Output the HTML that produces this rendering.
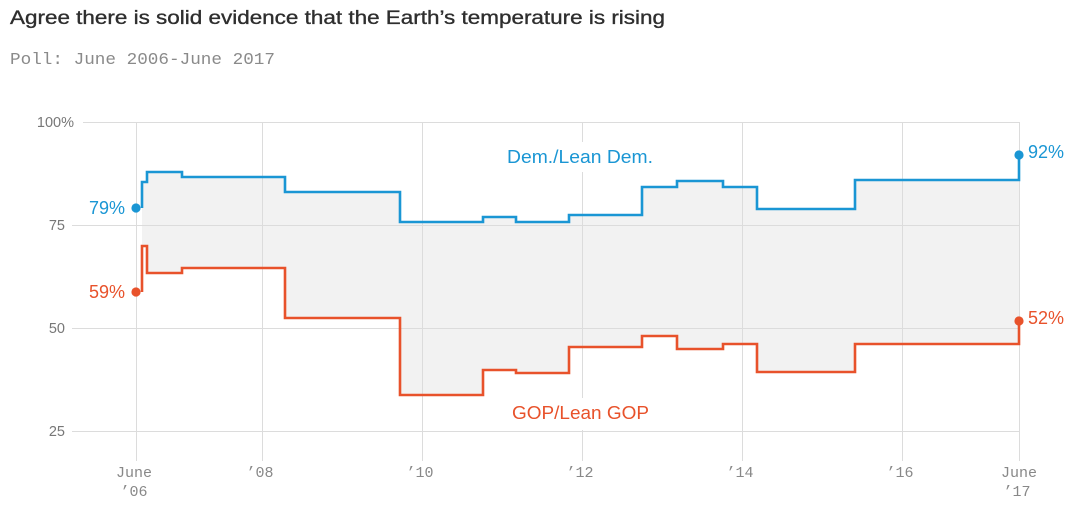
<!DOCTYPE html>
<html>
<head>
<meta charset="utf-8">
<style>
  html, body { margin: 0; padding: 0; background: #ffffff; }
  body { width: 1084px; height: 513px; overflow: hidden; }
  svg { display: block; }
</style>
</head>
<body>
<svg width="1084" height="513" viewBox="0 0 1084 513" xmlns="http://www.w3.org/2000/svg">
  <!-- Title -->
  <text x="10" y="24" font-family="'Liberation Sans', sans-serif" font-size="19.5" fill="#2e2e2e" stroke="#2e2e2e" stroke-width="0.35" textLength="655" lengthAdjust="spacingAndGlyphs">Agree there is solid evidence that the Earth’s temperature is rising</text>
  <text x="10" y="64" font-family="'Liberation Mono', monospace" font-size="17" fill="#8a8a8a" textLength="265" lengthAdjust="spacingAndGlyphs">Poll: June 2006-June 2017</text>

  <!-- Fill between lines -->
  <polygon fill="#f2f2f2" points="142,208 142,182 147,182 147,172 182,172 182,177 285,177 285,192 400,192 400,222 483,222 483,217 516,217 516,222 569,222 569,215 642,215 642,187 677,187 677,181 723,181 723,187 757,187 757,209 855,209 855,180 1019,180 1019,155 1019,321 1019,344 855,344 855,372 757,372 757,344 723,344 723,349 677,349 677,336 642,336 642,347 569,347 569,373 516,373 516,370 483,370 483,395 400,395 400,318 285,318 285,268 182,268 182,273 147,273 147,246 142,246 142,292"/>

  <!-- Gridlines -->
  <g stroke="#dcdcdc" stroke-width="1" fill="none">
    <line x1="83" y1="122.5" x2="1019" y2="122.5"/>
    <line x1="72" y1="225.5" x2="1019" y2="225.5"/>
    <line x1="72" y1="328.5" x2="1019" y2="328.5"/>
    <line x1="72" y1="431.5" x2="1019" y2="431.5"/>
    <line x1="136.5" y1="122" x2="136.5" y2="461"/>
    <line x1="262.5" y1="122" x2="262.5" y2="461"/>
    <line x1="422.5" y1="122" x2="422.5" y2="461"/>
    <line x1="582.5" y1="122" x2="582.5" y2="461"/>
    <line x1="742.5" y1="122" x2="742.5" y2="461"/>
    <line x1="902.5" y1="122" x2="902.5" y2="461"/>
    <line x1="1019.5" y1="122" x2="1019.5" y2="461"/>
  </g>

  <!-- Y labels -->
  <g font-family="'Liberation Sans', sans-serif" font-size="14.5" fill="#777777">
    <text x="74" y="127" text-anchor="end">100%</text>
    <text x="65" y="230" text-anchor="end">75</text>
    <text x="65" y="333" text-anchor="end">50</text>
    <text x="65" y="436" text-anchor="end">25</text>
  </g>

  <!-- X labels -->
  <g font-family="'Liberation Mono', monospace" font-size="15" fill="#888888" text-anchor="middle">
    <text x="134" y="477">June</text>
    <text x="134" y="496">’06</text>
    <text x="260" y="477">’08</text>
    <text x="420" y="477">’10</text>
    <text x="580" y="477">’12</text>
    <text x="740" y="477">’14</text>
    <text x="900" y="477">’16</text>
    <text x="1019" y="477">June</text>
    <text x="1017" y="496">’17</text>
  </g>

  <!-- Series label boxes -->
  <rect x="500" y="142" width="160" height="30" fill="#ffffff"/>
  <rect x="505" y="398" width="152" height="32" fill="#ffffff"/>
  <text x="507" y="163" font-family="'Liberation Sans', sans-serif" font-size="18.5" fill="#1a96d4" textLength="146" lengthAdjust="spacingAndGlyphs">Dem./Lean Dem.</text>
  <text x="512" y="419" font-family="'Liberation Sans', sans-serif" font-size="18.5" fill="#e8522b" textLength="137" lengthAdjust="spacingAndGlyphs">GOP/Lean GOP</text>

  <!-- Lines -->
  <path d="M142,208 V182 H147 V172 H182 V177 H285 V192 H400 V222 H483 V217 H516 V222 H569 V215 H642 V187 H677 V181 H723 V187 H757 V209 H855 V180 H1019 V155" fill="none" stroke="#1a96d4" stroke-width="2.6" stroke-linejoin="miter"/>
  <path d="M142,292 V246 H147 V273 H182 V268 H285 V318 H400 V395 H483 V370 H516 V373 H569 V347 H642 V336 H677 V349 H723 V344 H757 V372 H855 V344 H1019 V321" fill="none" stroke="#e8522b" stroke-width="2.6" stroke-linejoin="miter"/>

  <!-- Dots -->
  <circle cx="136" cy="208" r="4.6" fill="#1a96d4"/>
  <circle cx="136" cy="292" r="4.6" fill="#e8522b"/>
  <circle cx="1019" cy="155" r="4.6" fill="#1a96d4"/>
  <circle cx="1019" cy="321" r="4.6" fill="#e8522b"/>

  <!-- End labels -->
  <g font-family="'Liberation Sans', sans-serif" font-size="18">
    <text x="125" y="214" text-anchor="end" fill="#1a96d4">79%</text>
    <text x="125" y="298" text-anchor="end" fill="#e8522b">59%</text>
    <text x="1028" y="158" fill="#1a96d4">92%</text>
    <text x="1028" y="324" fill="#e8522b">52%</text>
  </g>
</svg>
</body>
</html>
